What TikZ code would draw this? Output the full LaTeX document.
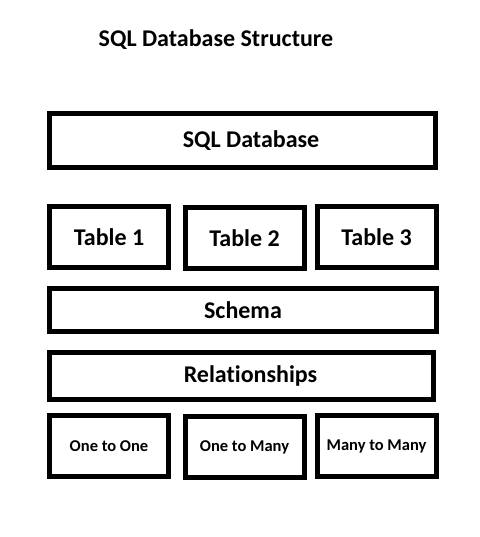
\documentclass[tikz,border=0pt]{standalone}
\usepackage{fontspec}
\setmainfont{Carlito}[Ligatures=NoCommon]
\usetikzlibrary{positioning}

\begin{document}
\begin{tikzpicture}[x=1pt, y=-1pt,
  block/.style={draw, line width=5pt, minimum width=119pt, minimum height=61pt, inner sep=0pt, font=\fontsize{24}{28}\selectfont\bfseries},
  wide/.style={block, minimum width=386pt},
  small/.style={block, font=\fontsize{16.5}{20}\selectfont\bfseries}]

  \useasboundingbox (0,0) rectangle (479,537);

  % Title
  \node[font=\fontsize{24}{28}\selectfont\bfseries] (title) at (216,40) {SQL Database Structure};

  % Database
  \node[wide, minimum height=54pt] (db) at (242.5,140.5) {\hspace*{17pt}SQL Database};

  % Tables
  \node[block] (T1) at (109,237) {Table 1};
  \node[block] (T2) at (244.5,238) {Table 2};
  \node[block] (T3) at (376.5,237) {Table 3};

  % Schema and relationships
  \node[wide, minimum width=387pt, minimum height=43pt] (schema) at (243,310) {Schema};
  \node[wide, minimum width=384pt, minimum height=47pt] (rel) at (241.5,376) {\hspace*{18pt}Relationships};

  % Relationship kinds
  \node[small] (R1) at (109,446) {One to One};
  \node[small] (R2) at (244.5,447) {One to Many};
  \node[small] (R3) at (376.5,446) {Many to Many};

\end{tikzpicture}
\end{document}
